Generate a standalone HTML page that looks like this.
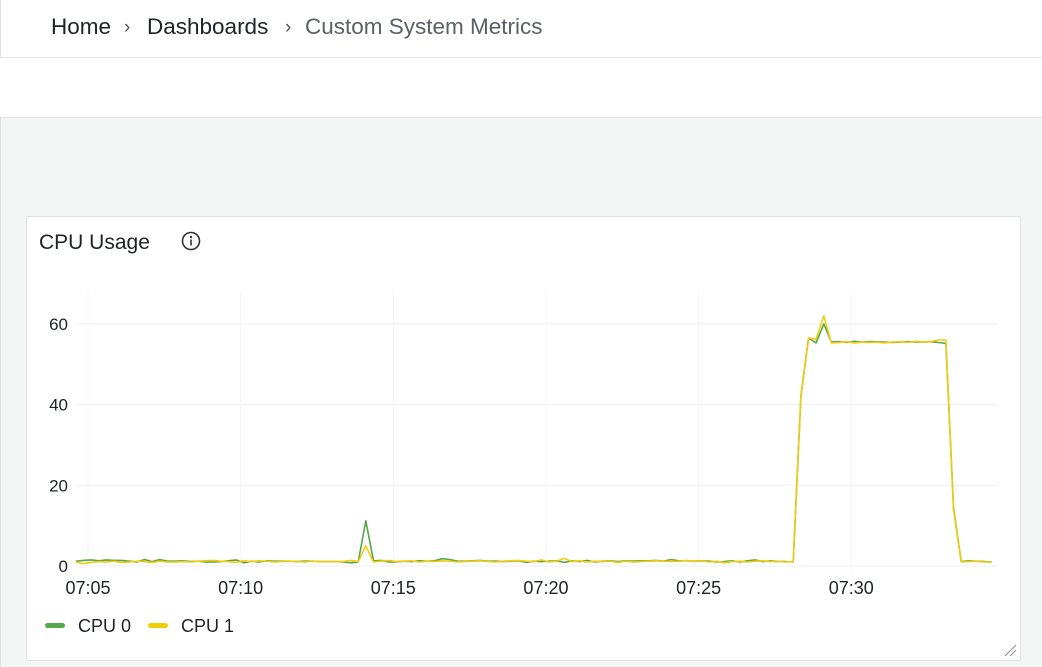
<!DOCTYPE html>
<html><head><meta charset="utf-8"><style>
body{margin:0;width:1042px;height:667px;background:#f4f5f5;font-family:"Liberation Sans",sans-serif;position:relative;overflow:hidden}
.top{position:absolute;left:0;top:0;width:1042px;height:117px;background:#fff;border-bottom:1px solid #e4e4e4}
.crumb{position:absolute;left:0;top:0;width:1042px;height:57px;border-bottom:1px solid #e4e4e4;border-left:1px solid #e0e0e0}
.crumb span{position:absolute;top:14px;font-size:22.5px;color:#1f2328;white-space:nowrap}
.panel{position:absolute;left:26px;top:216px;width:993px;height:443px;background:#fff;border:1px solid #e2e2e2;border-radius:2px}
</style></head><body>
<div class="top">
<div class="crumb">
<span style="left:50px">Home</span>
<span style="left:123px;color:#555;font-size:19px;top:17px">›</span>
<span style="left:146px">Dashboards</span>
<span style="left:284px;color:#555;font-size:19px;top:17px">›</span>
<span style="left:304px;color:#5b5f66">Custom System Metrics</span>
</div></div>
<div style="position:absolute;left:0;top:117px;width:1px;height:550px;background:#e0e0e0"></div>
<div class="panel"></div>
<svg width="1042" height="667" style="position:absolute;left:0;top:0" id="chart">
<text x="39" y="249" font-size="21" fill="#1f2328" font-family="Liberation Sans">CPU Usage</text>
<g><circle cx="191" cy="241" r="8.5" fill="none" stroke="#333" stroke-width="1.6"/><circle cx="191" cy="237" r="1.2" fill="#333"/><rect x="190.2" y="239.5" width="1.6" height="6" fill="#333"/></g>
<g id="grid"></g><g id="lines"></g><g id="axes"></g>
<g>
<rect x="45" y="623" width="20" height="5" rx="2.5" fill="#56a64b"/>
<text x="78" y="632" font-size="18" fill="#1f2328">CPU 0</text>
<rect x="148" y="623" width="20" height="5" rx="2.5" fill="#f2cc0c"/>
<text x="181" y="632" font-size="18" fill="#1f2328">CPU 1</text>
</g>
<g stroke="#999" stroke-width="1.2"><line x1="1005" y1="656" x2="1016" y2="645"/><line x1="1010" y1="656" x2="1016" y2="650"/></g>
</svg>
<script>
const startMinute = 4.6;
const stepMinutes = 0.25;
const cpu0 = [1.2,1.4,1.5,1.3,1.5,1.4,1.4,1.2,1.0,1.6,1.1,1.6,1.2,1.2,1.3,1.1,1.2,1.0,1.0,1.1,1.3,1.5,0.8,1.2,1.0,1.3,1.2,1.2,1.2,1.1,1.2,1.2,1.1,1.1,1.1,1.0,0.8,1.0,
11.2,
1.3,1.4,1.0,1.0,1.2,1.1,1.3,1.2,1.3,1.8,1.6,1.2,1.2,1.3,1.4,1.2,1.2,1.1,1.2,1.3,0.9,1.2,1.1,1.2,1.3,0.9,1.3,1.1,1.4,1.0,1.2,1.3,1.1,1.3,1.2,1.3,1.3,1.4,1.2,1.6,1.3,1.3,1.2,1.3,1.2,1.0,1.1,1.3,1.0,1.3,1.5,1.1,1.3,1.1,1.1,1.0,
42,56.5,55.3,60,
55.5,55.6,55.4,55.7,55.5,55.6,55.6,55.5,55.4,55.5,55.6,55.5,55.5,55.6,55.4,55.2,
14.5,1.1,1.3,1.2,1.1,1.0];
const cpu1 = [1.0,0.6,0.9,1.1,1.0,1.2,0.9,1.0,1.2,1.1,0.9,1.2,1.0,1.0,1.1,1.0,1.2,1.3,1.4,1.2,1.1,0.9,1.3,1.1,1.3,1.2,1.0,1.1,1.2,1.1,1.0,1.2,1.1,1.1,1.1,1.1,1.4,1.1,
5,
1.0,1.2,1.4,1.1,1.2,1.3,1.0,1.2,1.1,1.3,1.2,1.0,1.1,1.2,1.3,1.1,1.0,1.2,1.3,1.4,1.2,1.1,1.5,1.0,1.2,1.9,1.1,1.3,1.0,1.2,1.1,1.2,0.9,1.2,1.0,1.1,1.2,1.3,1.2,1.1,1.2,1.4,1.1,1.3,1.0,1.2,0.8,1.1,1.2,1.0,1.2,1.3,1.1,1.1,1.0,1.1,
42,56.5,56.2,62,
55.3,55.4,55.6,55.3,55.5,55.4,55.5,55.3,55.5,55.6,55.4,55.7,55.5,55.6,56.0,56.0,
14,1.0,1.1,1.2,1.0,1.0];
const yTicks = [0,20,40,60];
const xTickMinutes = [5,10,15,20,25,30];
const xTickLabels = ["07:05","07:10","07:15","07:20","07:25","07:30"];

const NS="http://www.w3.org/2000/svg";
const xs = m => 88 + (m-5)*30.53;
const ys = v => 566 - v*4.035;
function mk(tag, attrs, parent){const e=document.createElementNS(NS,tag);for(const k in attrs)e.setAttribute(k,attrs[k]);parent.appendChild(e);return e;}
const grid=document.getElementById('grid'), axes=document.getElementById('axes'), lines=document.getElementById('lines');
yTicks.forEach(v=>{
  const l=mk('line',{x1:76,x2:997,y1:ys(v),y2:ys(v),stroke:'#efefef','stroke-width':1},grid);
  
  
  const t=mk('text',{x:68,y:ys(v)+6,'text-anchor':'end','font-size':17,fill:'#1f2328'},axes);
  t.textContent=v;
  
  
});
xTickMinutes.forEach((m,i)=>{
  const l=mk('line',{x1:xs(m),x2:xs(m),y1:290,y2:570,stroke:'#f5f5f5','stroke-width':1},grid);
  
  
  const t=mk('text',{x:xs(m),y:594,'text-anchor':'middle','font-size':18,fill:'#1f2328'},axes);
  t.textContent=xTickLabels[i];
  
  
});
[[cpu0,'#56a64b','cpu0-line'],[cpu1,'#f2cc0c','cpu1-line']].forEach(([d,c,n])=>{
  const pts=d.map((v,i)=>xs(startMinute+i*stepMinutes).toFixed(1)+','+ys(v).toFixed(1)).join(' ');
  const p=mk('polyline',{points:pts,fill:'none',stroke:c,'stroke-width':1.6,'stroke-linejoin':'round'},lines);
  
  
});
</script>
</body></html>
